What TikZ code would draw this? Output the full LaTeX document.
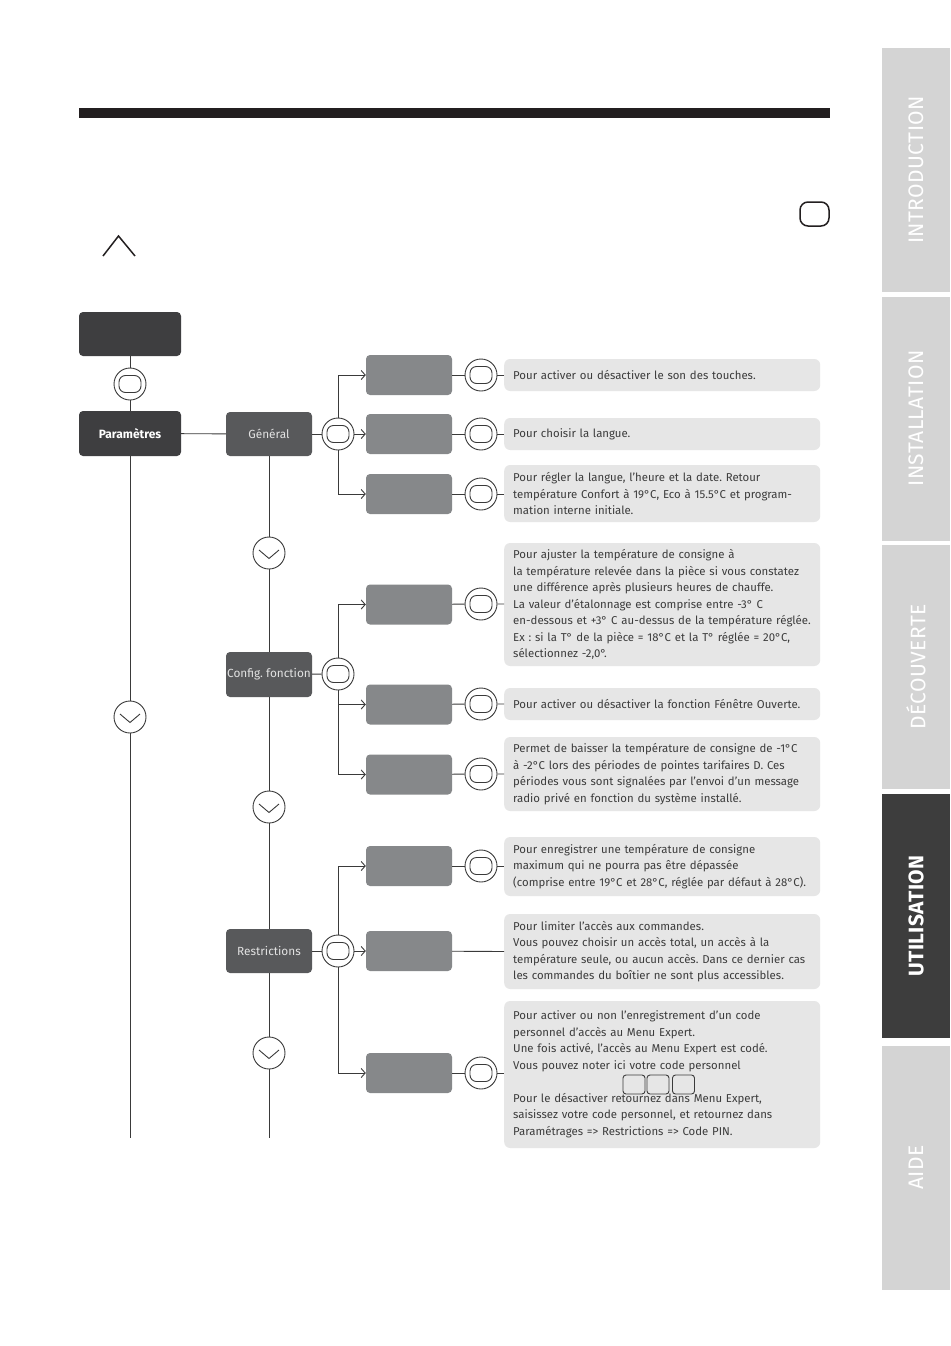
\documentclass[tikz,border=0pt]{standalone}
\usepackage{fontspec}
\setmainfont{Fira Sans}
\newfontfamily\tabfont[LetterSpace=2]{Fira Sans}
\frenchspacing
\usetikzlibrary{arrows.meta,calc}
\definecolor{cBar}{HTML}{231F20}
\definecolor{cDark}{HTML}{3E3E40}
\definecolor{cMid}{HTML}{58595B}
\definecolor{cSub}{HTML}{86888A}
\definecolor{cDesc}{HTML}{E6E6E6}
\definecolor{cLine}{HTML}{3A3A3A}
\definecolor{cTxt}{HTML}{3C3C3C}
\definecolor{cTab}{HTML}{D4D4D4}
\definecolor{cTabDark}{HTML}{3D3D3D}
\definecolor{cMidTxt}{HTML}{E2E2E2}
\begin{document}
\begin{tikzpicture}[x=1pt,y=-1pt,
  line/.style={draw=cLine, line width=0.9pt},
  arr/.style={line, -{Straight Barb[length=4pt,width=9pt,line width=0.9pt]}},
  darkbox/.style={rectangle, rounded corners=4pt, fill=cDark, minimum width=102pt, minimum height=45pt, inner sep=0pt, text=white, font=\bfseries\fontsize{12}{14}\selectfont},
  midbox/.style={rectangle, rounded corners=4pt, fill=cMid, minimum width=86pt, minimum height=45pt, inner sep=0pt, text=cMidTxt, font=\fontsize{11.8}{14}\selectfont},
  subbox/.style={rectangle, rounded corners=4pt, fill=cSub, minimum width=86pt, minimum height=40pt, inner sep=0pt},
  btn/.style={circle, draw=cLine, line width=0.9pt, fill=white, minimum size=32pt, inner sep=0pt,
    path picture={\draw[cLine, line width=0.9pt, rounded corners=6.5pt, shift={(path picture bounding box.center)}] (-11,-8.5) rectangle (11,8.5);}},
  chev/.style={circle, draw=cLine, line width=0.9pt, fill=white, minimum size=32pt, inner sep=0pt,
    path picture={\draw[cLine, line width=0.9pt, shift={(path picture bounding box.center)}] (-10,-3) -- (0,5.5) -- (10,-3);}},
  desc/.style={rectangle, rounded corners=6pt, fill=cDesc, text width=298pt, inner xsep=9pt, inner ysep=0pt, align=left, anchor=west, text=cTxt, font=\fontsize{11.4}{16.5}\selectfont},
  tab/.style={rectangle, fill=cTab, rotate=90, minimum width=244pt, minimum height=68pt, inner sep=0pt, text=white, font=\tabfont\fontsize{21}{24}\selectfont},
  pin/.style={rectangle, draw=cLine, line width=0.9pt, rounded corners=3pt, minimum width=22pt, minimum height=19pt, inner sep=0pt}
]
\useasboundingbox (0,0) rectangle (950,1346);
\fill[white] (0,0) rectangle (950,1346);

% header
\fill[cBar] (79,108) rectangle (830,118);
\draw[cBar, line width=1.5pt] (103,256) -- (118.5,236) -- (135,256);
\draw[cBar, line width=1.5pt, rounded corners=8pt] (800,202) rectangle (829,226);

% tabs
\node[tab] (tab1) at (916,170) {INTRODUCTION};
\node[tab] (tab2) at (916,418.5) {INSTALLATION};
\node[tab] (tab3) at (916,667) {DÉCOUVERTE};
\node[tab, fill=cTabDark, font=\tabfont\bfseries\fontsize{21}{24}\selectfont] (tab4) at (916,916) {UTILISATION};
\node[tab] (tab5) at (916,1167.5) {AIDE};

% main column
\node[darkbox, minimum height=44pt] (top) at (130,334) {};
\node[btn] (b0) at (130,384) {};
\node[darkbox] (param) at (130,433.5) {Paramètres};
\node[chev] (pc) at (130,717) {};
\coordinate (pend) at (130,1138);

% level 2
\node[midbox, minimum height=44pt] (gen) at (269,434) {Général};
\node[chev] (gc1) at (269,553) {};
\node[midbox] (conf) at (269,674.5) {Config. fonction};
\node[chev] (gc2) at (269,807) {};
\node[midbox, minimum height=44pt] (rest) at (269,951) {Restrictions};
\node[chev] (gc3) at (269,1053) {};
\coordinate (rend) at (269,1138);

% junction buttons
\node[btn] (gb) at (338,434) {};
\node[btn] (cb) at (338,674) {};
\node[btn] (rb) at (338,951) {};

% sub boxes
\node[subbox] (g1) at (409,375) {};
\node[subbox] (g2) at (409,434) {};
\node[subbox] (g3) at (409,494) {};
\node[subbox] (c1) at (409,604.5) {};
\node[subbox] (c2) at (409,704.5) {};
\node[subbox] (c3) at (409,774.5) {};
\node[subbox] (r1) at (409,866) {};
\node[subbox] (r2) at (409,951) {};
\node[subbox] (r3) at (409,1073) {};

% right buttons
\node[btn] (g1b) at (481,375) {};
\node[btn] (g2b) at (481,434) {};
\node[btn] (g3b) at (481,494) {};
\node[btn] (c1b) at (481,604) {};
\node[btn] (c2b) at (481,704) {};
\node[btn] (c3b) at (481,774) {};
\node[btn] (r1b) at (481,866) {};
\node[btn] (r3b) at (481,1073) {};

% descriptions
\node[desc, minimum height=32pt] (t1) at (504,375) {Pour activer ou désactiver le son des touches.};
\node[desc, minimum height=32pt] (t2) at (504,434) {Pour choisir la langue.};
\node[desc, minimum height=57pt] (t3) at (504,493.5) {Pour régler la langue, l’heure et la date. Retour\\température Confort à 19°C, Eco à 15.5°C et program-\\mation interne initiale.};
\node[desc, minimum height=123pt] (t4) at (504,604.5) {Pour ajuster la température de consigne à\\la température relevée dans la pièce si vous constatez\\une différence après plusieurs heures de chauffe.\\La valeur d’étalonnage est comprise entre -3° C\\en-dessous et +3° C au-dessus de la température réglée.\\Ex : si la T° de la pièce = 18°C et la T° réglée = 20°C,\\sélectionnez -2,0°.};
\node[desc, minimum height=32pt] (t5) at (504,704) {Pour activer ou désactiver la fonction Fénêtre Ouverte.};
\node[desc, minimum height=74pt] (t6) at (504,774) {Permet de baisser la température de consigne de -1°C\\à -2°C lors des périodes de pointes tarifaires D. Ces\\périodes vous sont signalées par l’envoi d’un message\\radio privé en fonction du système installé.};
\node[desc, minimum height=59pt] (t7) at (504,866.5) {Pour enregistrer une température de consigne\\maximum qui ne pourra pas être dépassée\\(comprise entre 19°C et 28°C, réglée par défaut à 28°C).};
\node[desc, minimum height=75pt] (t8) at (504,951.5) {Pour limiter l’accès aux commandes.\\Vous pouvez choisir un accès total, un accès à la\\température seule, ou aucun accès. Dans ce dernier cas\\les commandes du boîtier ne sont plus accessibles.};
\node[desc, minimum height=147pt] (t9) at (504,1074.5) {Pour activer ou non l’enregistrement d’un code\\personnel d’accès au Menu Expert.\\Une fois activé, l’accès au Menu Expert est codé.\\Vous pouvez noter ici votre code personnel\\[16.5pt]Pour le désactiver retournez dans Menu Expert,\\saisissez votre code personnel, et retournez dans\\Paramétrages => Restrictions => Code PIN.};
\node[pin] (pin1) at (634,1084.5) {};
\node[pin] (pin2) at (658,1084.5) {};
\node[pin] (pin3) at (683.5,1084.5) {};

% connectors main column
\draw[line] (top) -- (b0) -- (param);
\draw[line] (param) -- (pc) -- (pend);
\draw[line] (param) -- (gen);
\draw[line] (gen) -- (gc1) -- (conf);
\draw[line] (conf) -- (gc2) -- (rest);
\draw[line] (rest) -- (gc3) -- (rend);

% Général branch
\draw[line] (gen) -- (gb);
\draw[arr] (gb.north) |- (g1.west);
\draw[arr] (gb.east) -- (g2.west);
\draw[arr] (gb.south) |- (g3.west);
% Config branch
\draw[line] (conf) -- (cb);
\draw[arr] (cb.north) |- (c1.west);
\draw[arr] (cb.south) |- (c2.west);
\draw[arr] (cb.south) |- (c3.west);
% Restrictions branch
\draw[line] (rest) -- (rb);
\draw[arr] (rb.north) |- (r1.west);
\draw[arr] (rb.east) -- (r2.west);
\draw[arr] (rb.south) |- (r3.west);

% sub boxes to descriptions
\foreach \s in {g1,g2,g3,c1,c2,c3,r1,r3}{
  \draw[line] (\s) -- (\s b) -- (t1.west |- \s b);
}
\draw[line] (r2) -- (t8.west);
\end{tikzpicture}
\end{document}
